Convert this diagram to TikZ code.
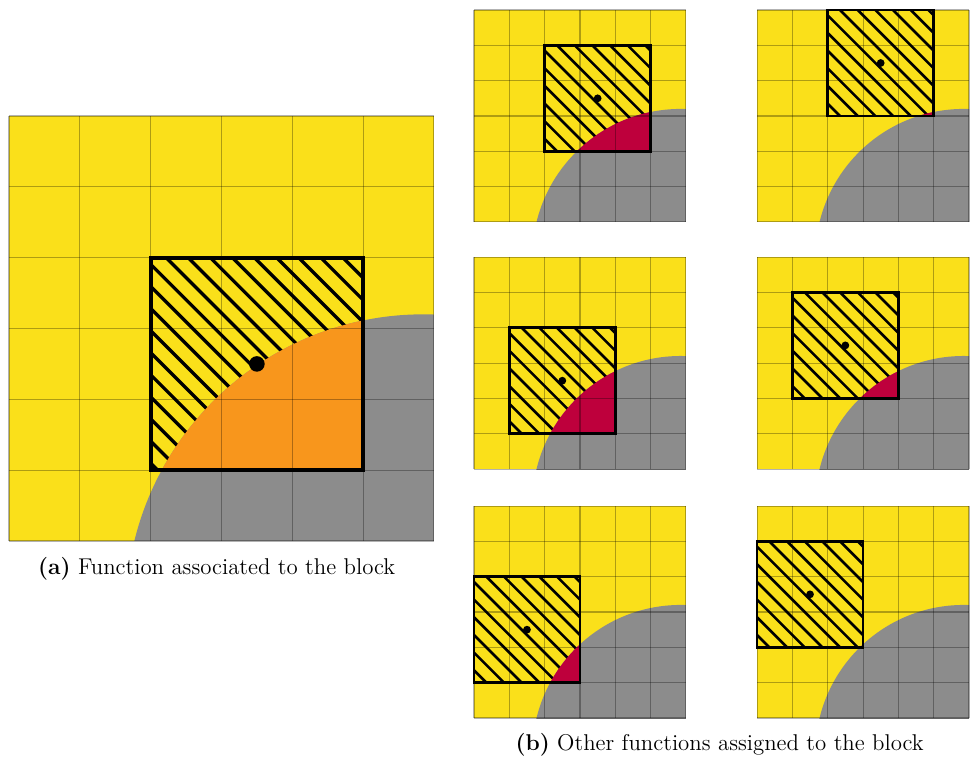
\documentclass[tikz,border=0pt]{standalone}
\usetikzlibrary{calc}
\definecolor{FieldYellow}{HTML}{FAE01A}
\definecolor{ZoneGray}{HTML}{8C8C8C}
\definecolor{OverlapOrange}{HTML}{F8961C}
\definecolor{OverlapRed}{HTML}{BE003C}
\tikzset{
  field/.style={fill=FieldYellow},
  zone/.style={fill=ZoneGray},
  gridline/.style={draw=black, opacity=0.3, line width=0.5pt},
  hatch/.style={draw=black, line width=1.25pt},
  blockframe/.style={draw=black, line width=1.4pt},
  centre/.style={fill=black},
  caption/.style={font=\fontsize{11}{13.5}\selectfont, align=center}
}
% #1 origin, #2 scale, #3/#4 lower left corner of the block, #5 overlap colour, #6 hatch step
\newcommand{\blockpanel}[6]{%
  \begin{scope}[shift={#1}, scale=#2]
    \fill[field] (0,0) rectangle (6,6);
    \begin{scope}
      \clip (0,0) rectangle (6,6);
      \fill[zone] (5.85,-1) circle (4.2);
    \end{scope}
    \begin{scope}
      \clip (#3,#4) rectangle ++(3,3);
      \foreach \k in {-11,...,11}
        \draw[hatch] ({#3+(\k+0.7)*#6},{#4+3}) -- ++(3.2,-3.2);
      \fill[#5] (5.85,-1) circle (4.2);
    \end{scope}
    \foreach \i in {0,...,6} {
      \draw[gridline] (\i,0) -- (\i,6);
      \draw[gridline] (0,\i) -- (6,\i);
    }
    \draw[blockframe] (#3,#4) rectangle ++(3,3);
    \fill[centre] ({#3+1.5},{#4+1.5}) circle (0.11);
  \end{scope}}

\begin{document}
\begin{tikzpicture}[x=1.2cm, y=1.2cm]
\useasboundingbox (0,0) rectangle (13.709,10.730);

% (a) the block and its function
\begin{scope}[hatch/.append style={line width=1.6pt}, blockframe/.append style={line width=1.9pt}]
  \blockpanel{(0.127,3.092)}{1}{2}{1}{OverlapOrange}{0.312}
\end{scope}
\node[caption] (capA) at (3.06,2.697) {\textbf{(a)} Function associated to the block};

% (b) the other functions
\blockpanel{(6.692,7.596)}{0.4988}{2}{2}{OverlapRed}{0.5}
\blockpanel{(10.688,7.596)}{0.4988}{2}{3}{OverlapRed}{0.5}
\blockpanel{(6.692,4.108)}{0.4988}{1}{1}{OverlapRed}{0.5}
\blockpanel{(10.688,4.108)}{0.4988}{1}{2}{OverlapRed}{0.5}
\blockpanel{(6.692,0.593)}{0.4988}{0}{1}{OverlapRed}{0.5}
\blockpanel{(10.688,0.593)}{0.4988}{0}{2}{OverlapRed}{0.5}
\node[caption] (capB) at (10.16,0.212) {\textbf{(b)} Other functions assigned to the block};
\end{tikzpicture}
\end{document}
